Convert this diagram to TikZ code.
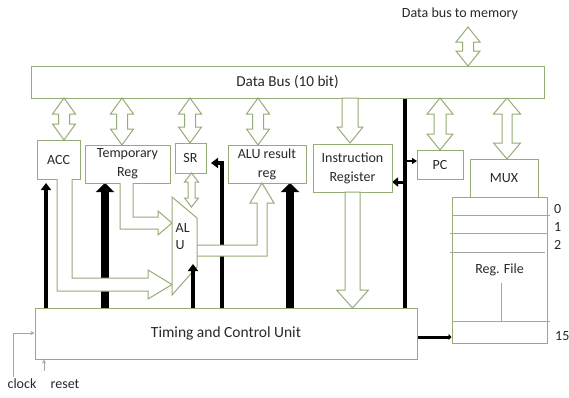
\documentclass[tikz,border=0pt]{standalone}
\usepackage{fontspec}
\setmainfont{Carlito}
\usetikzlibrary{arrows.meta,calc}
\definecolor{boxg}{RGB}{150,172,118}
\definecolor{txt}{RGB}{40,40,40}
\definecolor{lgray}{RGB}{165,165,165}
\newcommand\mydarrow[6]{%
  \draw[hol] (#1,#2) -- (#1+#5,#2+#6) -- (#1+#4,#2+#6) -- (#1+#4,#3-#6) -- (#1+#5,#3-#6) -- (#1,#3) -- (#1-#5,#3-#6) -- (#1-#4,#3-#6) -- (#1-#4,#2+#6) -- (#1-#5,#2+#6) -- cycle;}
\newcommand\mysarrow[6]{%
  \draw[hol] (#1-#4,#2) -- (#1+#4,#2) -- (#1+#4,#3-#6) -- (#1+#5,#3-#6) -- (#1,#3) -- (#1-#5,#3-#6) -- (#1-#4,#3-#6) -- cycle;}
\begin{document}
\begin{tikzpicture}[x=1pt,y=-1pt,
  box/.style={draw=boxg,line width=1pt,fill=white,inner sep=0pt,text=txt,font=\fontsize{14}{19}\selectfont,align=center},
  hol/.style={draw=boxg,line width=1pt,fill=white,line join=miter},
  thin/.style={line width=3.5pt,-{Triangle[width=10pt,length=7pt]}},
  thick/.style={line width=8pt,-{Triangle[width=18pt,length=9pt]}},
  lbl/.style={text=txt,font=\fontsize{14}{17}\selectfont,inner sep=0pt},
  gl/.style={draw=lgray,line width=0.8pt}]
\useasboundingbox (0,0) rectangle (569,397);
% nodes (boxes)
\node[box,minimum width=513,minimum height=32,font=\fontsize{15.2}{18}\selectfont] (bus) at (287.5,82) {Data Bus (10 bit)};
\node[box,minimum width=382,minimum height=51,font=\fontsize{15.5}{18}\selectfont] (tcu) at (226,333.5) {Timing and Control Unit};
\node[box,minimum width=95,minimum height=146] (regf) at (499.5,270) {Reg. File};
% black connectors
\draw[thin] (46,0 |- tcu.north) -- (46,183);
\draw[thick] (105,0 |- tcu.north) -- (105,183);
\draw[thin] (222,0 |- tcu.north) -- (222,163) -- (211,163);
\draw[thick] (290,0 |- tcu.north) -- (290,183);
\draw[line width=4pt] (405,0 |- bus.south) -- (405,0 |- tcu.north);
\draw[line width=1.8pt,-{Triangle[width=6pt,length=5pt]}] (405,161) -- (417,161);
\draw[line width=3pt,-{Triangle[width=9pt,length=6pt]}] (405,182) -- (392,182);
\draw[line width=3pt,-{Triangle[width=6pt,length=3pt]}] (tcu.east |- 0,337) -- (regf.west |- 0,337);
% register boxes
\node[box,minimum width=43,minimum height=39] (acc) at (58.5,159.5) {ACC};
\node[box,minimum width=85,minimum height=38] (temp) at (127.5,164) {Temporary\\Reg};
\node[box,minimum width=31,minimum height=30] (sr) at (190.5,158) {SR};
\node[box,minimum width=78,minimum height=38] (alur) at (267,164) {ALU result\\reg};
\node[box,minimum width=79,minimum height=48] (ir) at (352.5,168) {Instruction\\Register};
\node[box,minimum width=46,minimum height=29] (pc) at (440,164.5) {PC};
\node[box,minimum width=68,minimum height=38] (mux) at (504,178) {MUX};
% hollow arrows from the bus
\mydarrow{468}{27}{66}{5.5}{12}{15}
\mydarrow{64}{98}{140}{5.5}{11.5}{16}
\mydarrow{122}{98}{145}{5.5}{11.5}{16}
\mydarrow{190}{98}{143}{5.5}{11.5}{16}
\mydarrow{258}{98}{145}{5.5}{11.5}{16}
\mysarrow{350}{98}{143}{8}{13}{16}
\mydarrow{440}{98}{150}{6}{13}{16}
\mydarrow{507}{98}{159}{5}{13.5}{16}
% bent arrows into the ALU
\draw[hol] (57,179) -- (57,291) -- (148,291) -- (148,299) -- (172,284.5) -- (148,270) -- (148,278) -- (72,278) -- (72,179);
\draw[hol] (120,183) -- (120,229) -- (158,229) -- (158,235) -- (172,223) -- (158,211) -- (158,217) -- (133,217) -- (133,183);
\draw[hol] (197,245) -- (257,245) -- (257,203) -- (250,203) -- (262,183) -- (274,203) -- (267,203) -- (267,256) -- (197,256);
\mysarrow{352.5}{192}{308}{7.5}{16}{18}
% ALU
\draw[hol] (172,197) -- (197,218) -- (197,267) -- (172,295) -- cycle;
\node[lbl,align=left,anchor=west] (alu) at (175.5,237) {AL\\U};
\draw[thin] (193,0 |- tcu.north) -- (193,264);
\mydarrow{191.5}{173}{207}{3.5}{7}{9}
% register file rows
\draw[gl] (452,215) -- (550,215);
\draw[gl] (450,233) -- (547,233);
\draw[gl] (450,252) -- (545,252);
\draw[gl] (452,321) -- (550,321);
\draw[gl] (501,283) -- (501,321);
\node[lbl,anchor=west] (r0) at (554,209) {0};
\node[lbl,anchor=west] (r1) at (554,227) {1};
\node[lbl,anchor=west] (r2) at (554,245) {2};
\node[lbl,anchor=west] (r15) at (555,336) {15};
% labels
\node[lbl] (mem) at (460,14) {Data bus to memory};
\node[lbl] (clk) at (22,384) {clock};
\node[lbl] (rst) at (65,384) {reset};
\coordinate (clkin) at (13,377);
\coordinate (rstin) at (44,371);
\draw[gl,-{Stealth[length=4pt,width=4pt]}] (clkin) -- (13,333) -- (tcu.west |- 0,333);
\draw[gl,-{Stealth[length=4pt,width=4pt]}] (rstin) -- (rstin |- tcu.south);
\end{tikzpicture}
\end{document}
